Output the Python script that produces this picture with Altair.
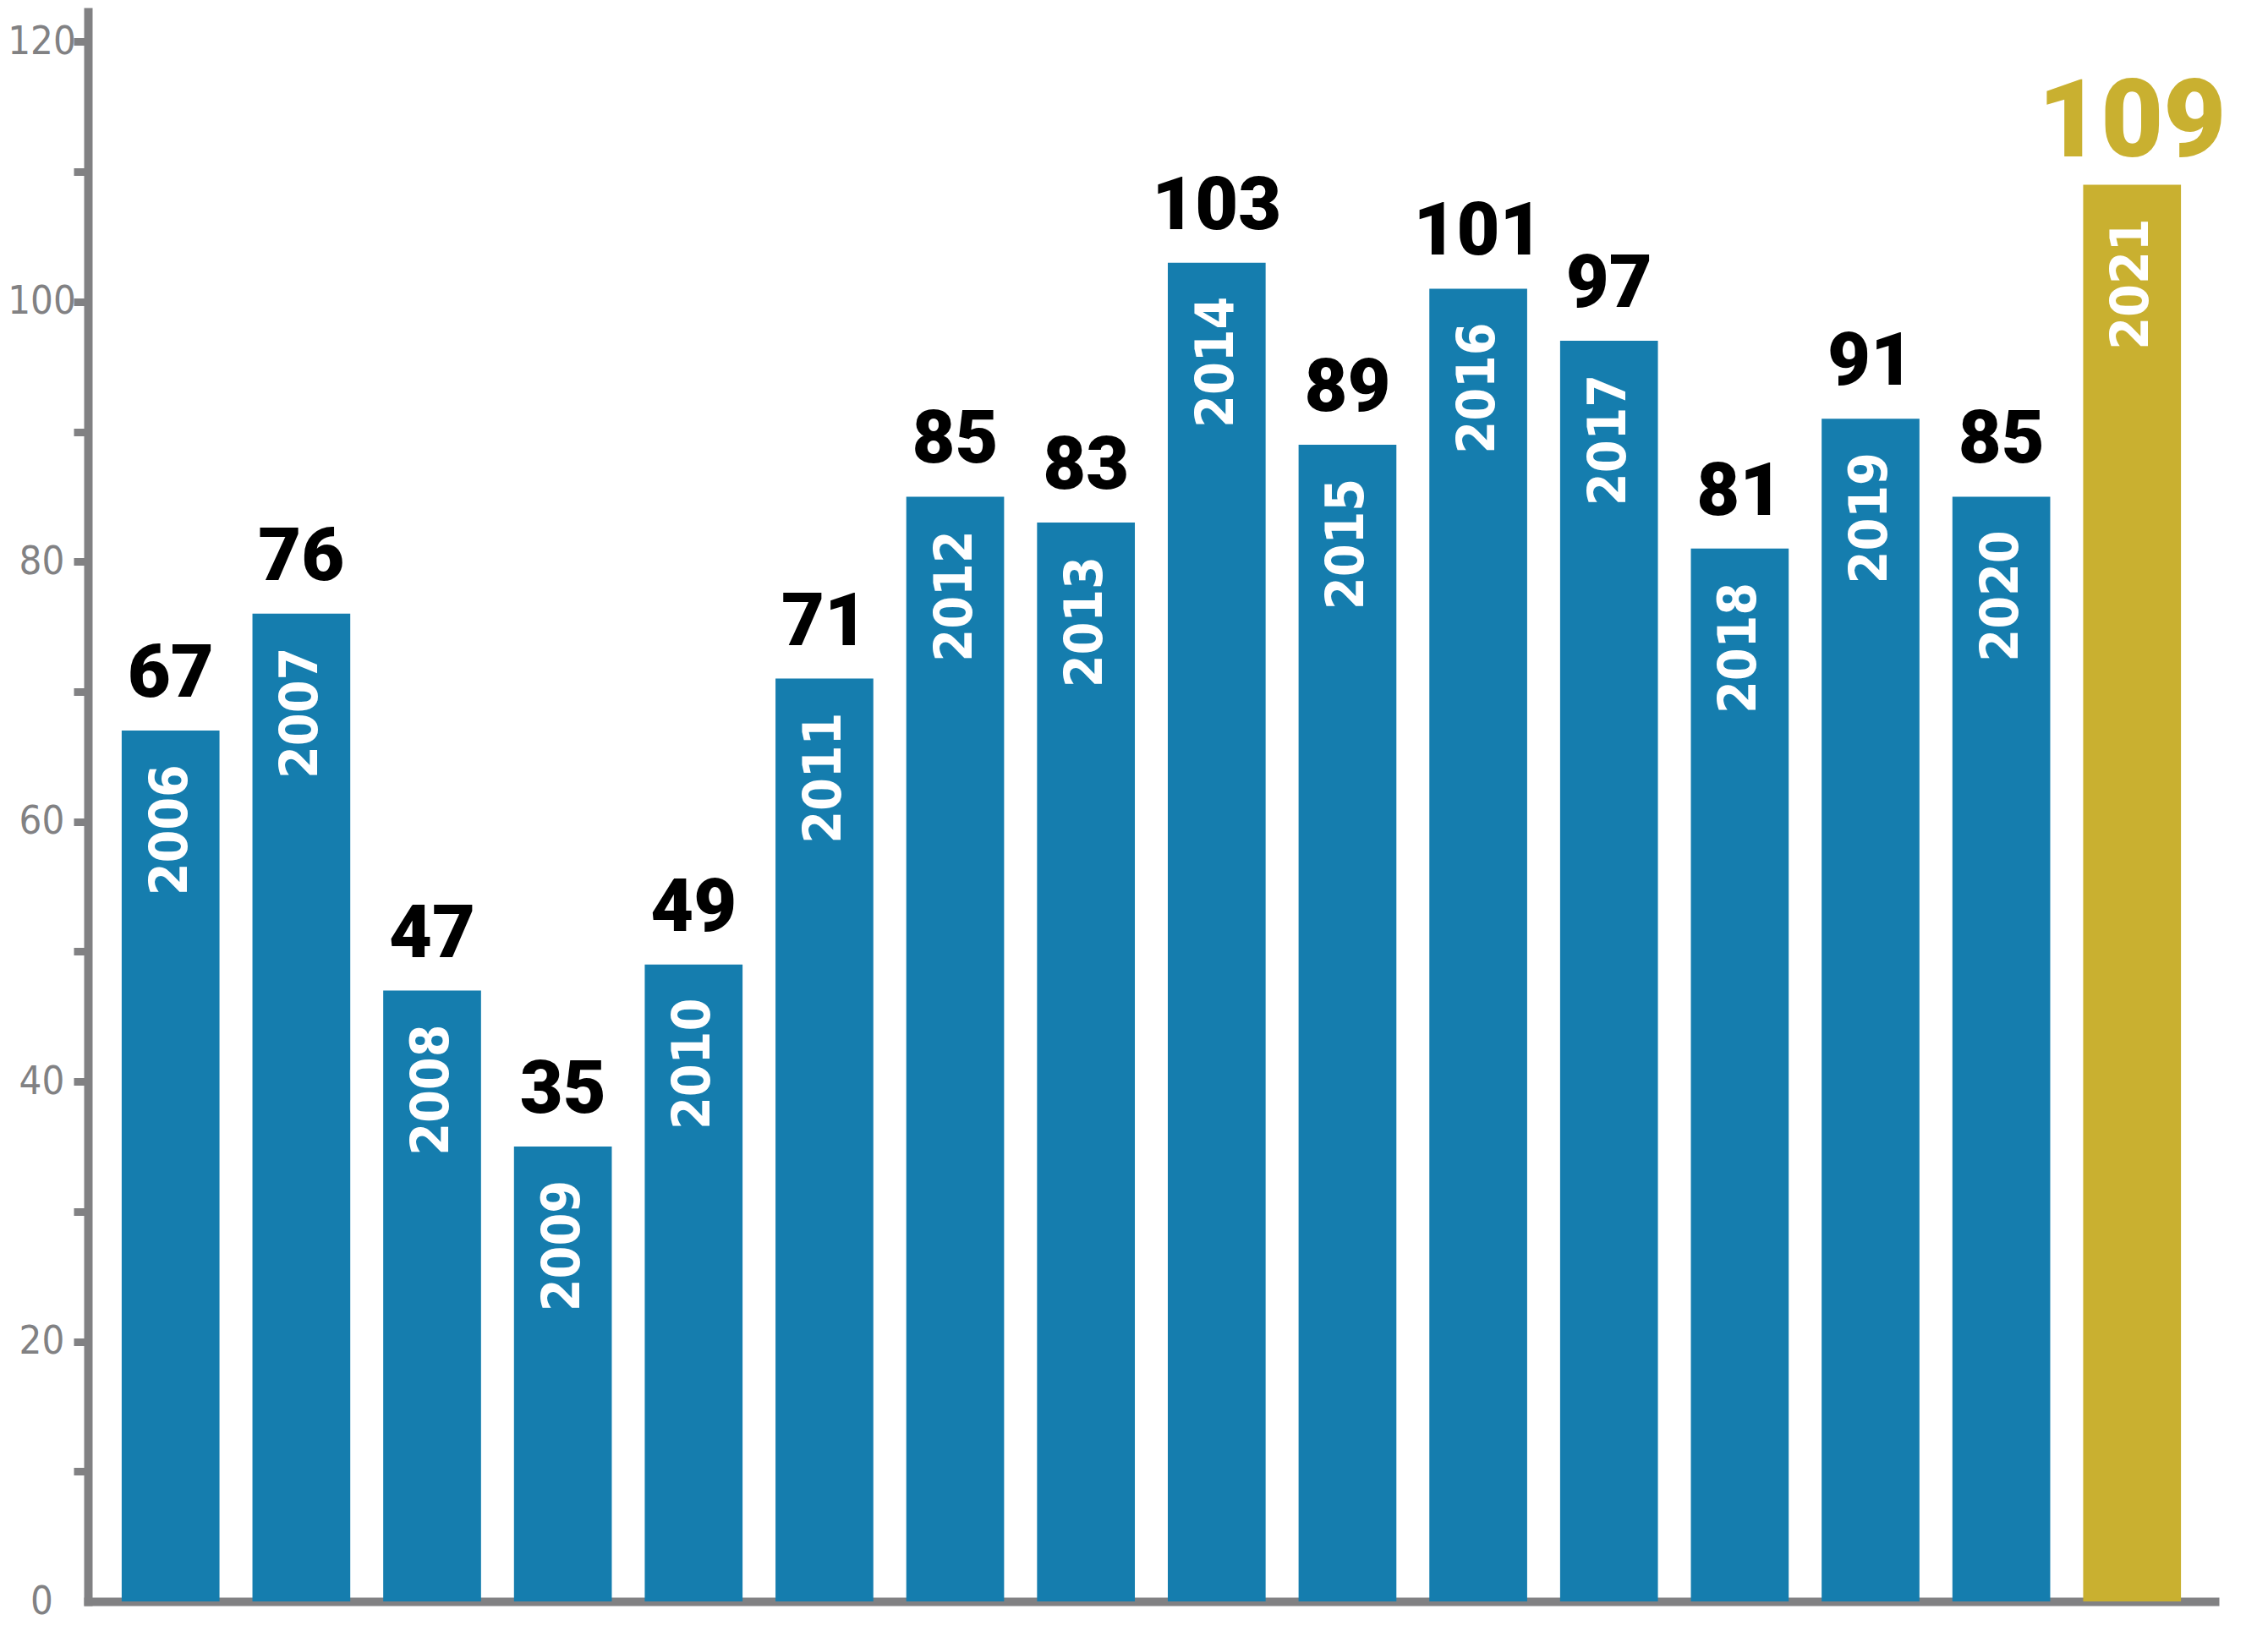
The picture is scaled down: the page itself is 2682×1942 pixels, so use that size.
import altair as alt
import pandas as pd

# ---- data ----
years = ["2006", "2007", "2008", "2009", "2010", "2011", "2012", "2013",
         "2014", "2015", "2016", "2017", "2018", "2019", "2020", "2021"]
counts = [67, 76, 47, 35, 49, 71, 85, 83, 103, 89, 101, 97, 81, 91, 85, 109]
highlight_year = "2021"
y_ticks = list(range(0, 121, 10))

BLUE = "#157DAE"
GOLD = "#C9B030"
GRAY = "#818183"
NARROW = "DejaVu Sans Condensed, Liberation Sans Narrow, sans-serif"
BOLD = "Roboto, sans-serif"

df = pd.DataFrame({"year": years, "count": counts})

x_enc = alt.X(
    "year:N", sort=years,
    scale=alt.Scale(paddingInner=0.252, paddingOuter=0.258),
    axis=alt.Axis(labels=False, ticks=False, title=None, domainColor=GRAY,
                  domainWidth=10, domainCap="square"),
)
y_enc = alt.Y(
    "count:Q",
    scale=alt.Scale(domain=[0, 122.3], nice=False, zero=True),
    axis=alt.Axis(
        values=y_ticks,
        labelExpr="datum.value % 20 === 0 ? datum.label : ''",
        title=None, grid=False,
        domainColor=GRAY, domainWidth=10, domainCap="square",
        tickColor=GRAY, tickWidth=9, tickSize=17,
        tickOpacity={"condition": {"test": "datum.value === 0", "value": 0}, "value": 1},
        labelPadding=38, labelAlign="center", labelBaseline="middle",
        labelFont=NARROW, labelFontSize=47, labelColor=GRAY,
    ),
)

base = alt.Chart(df).encode(x=x_enc, y=y_enc)

bars = base.mark_bar().encode(
    color=alt.when(alt.datum.year == highlight_year)
    .then(alt.value(GOLD)).otherwise(alt.value(BLUE))
)

value_labels = base.transform_filter(alt.datum.year != highlight_year).mark_text(
    font=BOLD, fontWeight=900, fontSize=88, baseline="alphabetic",
    dy=-40, color="black",
).encode(text="count:Q")

hl_label = base.transform_filter(alt.datum.year == highlight_year).mark_text(
    font=BOLD, fontWeight=900, fontSize=128, baseline="alphabetic",
    dy=-33, color=GOLD,
).encode(text="count:Q")

year_labels = base.mark_text(
    font=NARROW, fontWeight="bold", fontSize=62, angle=270,
    align="right", baseline="middle", dx=-40, color="white",
).encode(text="year:N")

chart = (
    alt.layer(bars, value_labels, hl_label, year_labels)
    .properties(
        width=2515, height=1880,
        autosize=alt.AutoSizeParams(type="none"),
        padding={"left": 96, "top": 6, "right": 50, "bottom": 40},
    )
    .configure_view(stroke=None)
)

chart.save("out.html", embed_options={"renderer": "svg", "actions": False})
